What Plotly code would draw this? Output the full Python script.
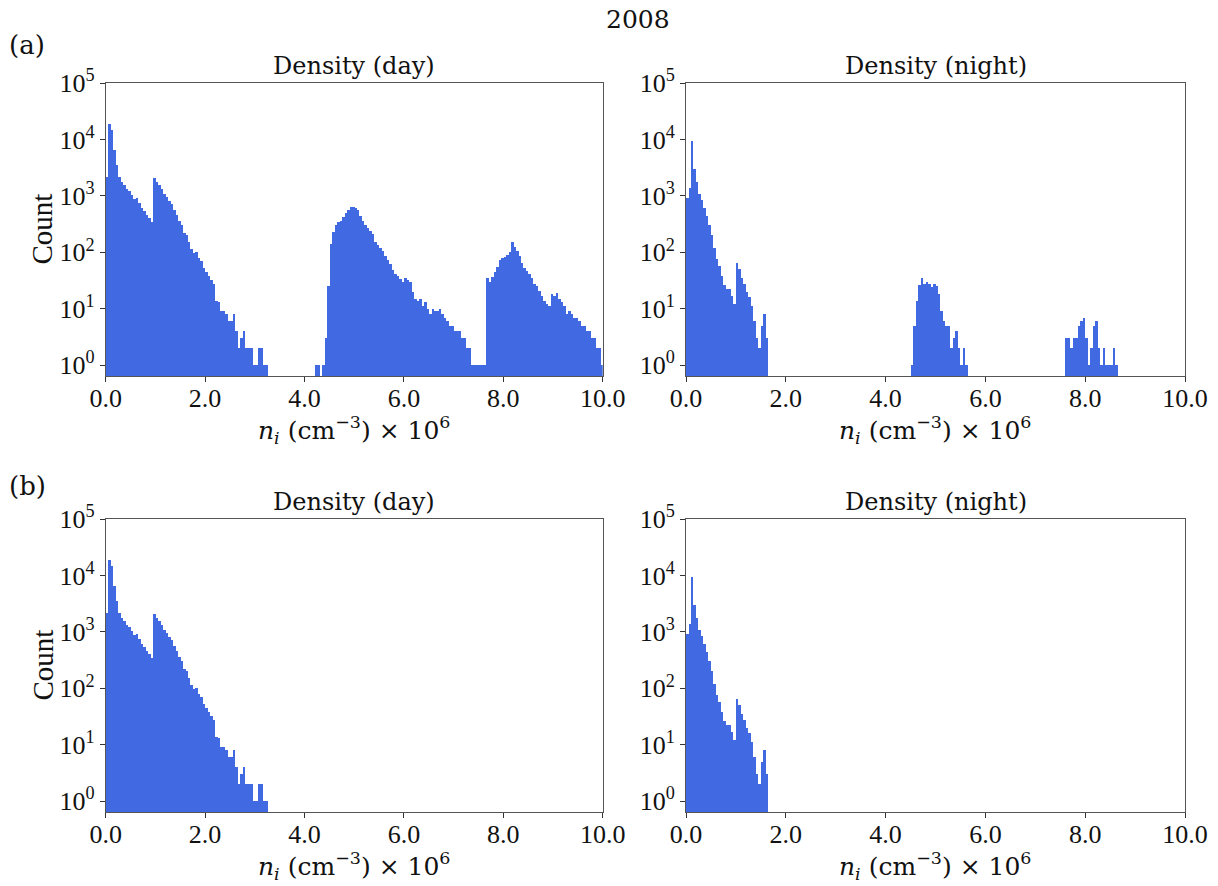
import numpy as np
import plotly.graph_objects as go

# ---- data (histogram counts, bin width 0.05 x10^6 cm^-3, range 0-10) ----
bin_width = 0.05
n_bins = 200

day_counts = [
    2200, 19000, 15000, 6500, 3500, 2200, 1800, 1550, 1350, 1200,
    1050, 880, 920, 760, 620, 530, 450, 400, 340, 2100,
    1750, 1550, 1350, 1100, 950, 820, 720, 560, 450, 360,
    300, 220, 200, 150, 115, 98, 100, 78, 70, 52,
    45, 38, 32, 28, 14, 13, 9, 9, 8, 6,
    6, 8, 4, 2, 3, 4, 2, 2, 2, 1,
    1, 2, 2, 1, 1, 0, 0, 0, 0, 0,
    0, 0, 0, 0, 0, 0, 0, 0, 0, 0,
    0, 0, 0, 0, 1, 1, 0, 1, 3, 25,
    140, 230, 310, 340, 360, 420, 490, 570, 630, 640,
    610, 560, 440, 360, 310, 270, 240, 210, 150, 135,
    120, 105, 85, 72, 62, 48, 42, 38, 34, 30,
    35, 33, 30, 20, 15, 14, 15, 11, 13, 10,
    8, 10, 9, 9, 10, 8, 7, 6, 5, 5,
    4, 4, 4, 3, 3, 2, 2, 1, 1, 1,
    1, 1, 1, 35, 30, 36, 44, 55, 72, 78,
    84, 90, 100, 150, 125, 105, 85, 65, 52, 46,
    42, 35, 28, 25, 21, 17, 14, 12, 11, 18,
    17, 19, 15, 13, 11, 8, 9, 8, 7, 7,
    6, 5, 5, 4, 4, 3, 3, 2, 2, 1,
]

night_counts = [
    900, 1400, 9500, 3000, 1800, 1100, 850, 600, 440, 300,
    200, 120, 75, 58, 38, 26, 22, 22, 17, 12,
    65, 50, 35, 28, 20, 16, 11, 6, 3, 2,
    5, 8, 3, 0, 0, 0, 0, 0, 0, 0,
    0, 0, 0, 0, 0, 0, 0, 0, 0, 0,
    0, 0, 0, 0, 0, 0, 0, 0, 0, 0,
    0, 0, 0, 0, 0, 0, 0, 0, 0, 0,
    0, 0, 0, 0, 0, 0, 0, 0, 0, 0,
    0, 0, 0, 0, 0, 0, 0, 0, 0, 0,
    1, 5, 14, 26, 35, 28, 30, 28, 24, 28,
    25, 18, 9, 6, 5, 5, 2, 3, 4, 2,
    1, 2, 1, 0, 0, 0, 0, 0, 0, 0,
    0, 0, 0, 0, 0, 0, 0, 0, 0, 0,
    0, 0, 0, 0, 0, 0, 0, 0, 0, 0,
    0, 0, 0, 0, 0, 0, 0, 0, 0, 0,
    0, 0, 3, 3, 2, 3, 3, 5, 6, 7,
    3, 1, 2, 5, 6, 2, 1, 2, 1, 1,
    1, 2, 1, 0, 0, 0, 0, 0, 0, 0,
    0, 0, 0, 0, 0, 0, 0, 0, 0, 0,
    0, 0, 0, 0, 0, 0, 0, 0, 0, 0,
]

# panel (b): only the lowest-density population is kept
day_cut_b = 3.3
night_cut_b = 1.7

x_tickvals = [0, 2, 4, 6, 8, 10]
x_ticktext = ["0.0", "2.0", "4.0", "6.0", "8.0", "10.0"]
y_tickvals = [1, 10, 100, 1000, 10000, 100000]
y_ticktext = ["10<sup>0</sup>", "10<sup>1</sup>", "10<sup>2</sup>",
              "10<sup>3</sup>", "10<sup>4</sup>", "10<sup>5</sup>"]

suptitle = "2008"
panel_titles = ["Density (day)", "Density (night)", "Density (day)", "Density (night)"]
xlabel = "<i>n<sub>i</sub></i> (cm<sup>\u22123</sup>) \u00d7 10<sup>6</sup>"
ylabel = "Count"

# ---- figure ----
W, H = 1218, 886
TICK_FONT = "Liberation Serif"
WIDE_FONT = "DejaVu Serif"
TXT = "#111111"
COLOR = "#4169E1"

centers = (np.arange(n_bins) + 0.5) * bin_width
day = np.array(day_counts, dtype=float)
night = np.array(night_counts, dtype=float)
day_b = np.where(centers < day_cut_b, day, 0.0)
night_b = np.where(centers < night_cut_b, night, 0.0)

def nz(arr):
    arr = np.asarray(arr, dtype=float)
    return np.where(arr > 0, arr, np.nan)

panels = [day, night, day_b, night_b]

# pixel layout (left, right, top, bottom)
px_boxes = [
    (105.7, 602.7, 83, 376),
    (686.0, 1185.0, 83, 376),
    (105.7, 602.7, 519, 812),
    (686.0, 1185.0, 519, 812),
]

fig = go.Figure()
layout = dict(
    width=W, height=H,
    margin=dict(l=0, r=0, t=0, b=0, autoexpand=False),
    paper_bgcolor="white", plot_bgcolor="white",
    showlegend=False, bargap=0,
    font=dict(family=TICK_FONT, size=26, color=TXT),
)

annotations = []
for k, (vals, box) in enumerate(zip(panels, px_boxes)):
    idx = "" if k == 0 else str(k + 1)
    xa = "x" + idx
    ya = "y" + idx
    fig.add_trace(go.Bar(
        x=centers, y=nz(vals), width=bin_width,
        marker=dict(color=COLOR, line=dict(width=0)),
        xaxis=xa, yaxis=ya,
    ))
    l, r, t, b = box
    xdom = [l / W, r / W]
    ydom = [1 - b / H, 1 - t / H]
    common = dict(
        ticks="outside", ticklen=5, tickwidth=1, tickcolor="#333",
        showline=True, linecolor="#555", linewidth=1, mirror=True,
        showgrid=False, zeroline=False, automargin=False,
        tickfont=dict(family=TICK_FONT, size=26, color=TXT),
    )
    layout["xaxis" + idx] = dict(
        domain=xdom, anchor=ya, range=[0, 10],
        tickvals=x_tickvals, ticktext=x_ticktext,
        ticklabelstandoff=-6, **common,
    )
    layout["yaxis" + idx] = dict(
        domain=ydom, anchor=xa, type="log", range=[-0.19, 5.0],
        tickvals=y_tickvals, ticktext=y_ticktext, **common,
    )
    cx = (l + r) / 2 / W
    # subplot title
    annotations.append(dict(
        text=panel_titles[k], x=cx, y=1 - (t - 17) / H, xref="paper", yref="paper",
        xanchor="center", yanchor="middle", showarrow=False,
        font=dict(family=WIDE_FONT, size=24, color=TXT),
    ))
    # x label
    annotations.append(dict(
        text=xlabel, x=cx, y=1 - (b + 54) / H, xref="paper", yref="paper",
        xanchor="center", yanchor="middle", showarrow=False,
        font=dict(family=WIDE_FONT, size=25, color=TXT),
    ))
    if k % 2 == 0:
        annotations.append(dict(
            text=ylabel, x=42 / W, y=1 - ((t + b) / 2) / H, xref="paper", yref="paper",
            xanchor="center", yanchor="middle", showarrow=False, textangle=-90,
            font=dict(family=TICK_FONT, size=29, color=TXT),
        ))

annotations.append(dict(
    text=suptitle, x=638 / W, y=1 - 20 / H, xref="paper", yref="paper",
    xanchor="center", yanchor="middle", showarrow=False,
    font=dict(family=WIDE_FONT, size=25, color=TXT),
))
annotations.append(dict(
    text="(a)", x=27 / W, y=1 - 45 / H, xref="paper", yref="paper",
    xanchor="center", yanchor="middle", showarrow=False,
    font=dict(family=WIDE_FONT, size=26, color=TXT),
))
annotations.append(dict(
    text="(b)", x=27 / W, y=1 - 486 / H, xref="paper", yref="paper",
    xanchor="center", yanchor="middle", showarrow=False,
    font=dict(family=WIDE_FONT, size=26, color=TXT),
))
layout["annotations"] = annotations
fig.update_layout(**layout)

fig.write_html("out.html")
